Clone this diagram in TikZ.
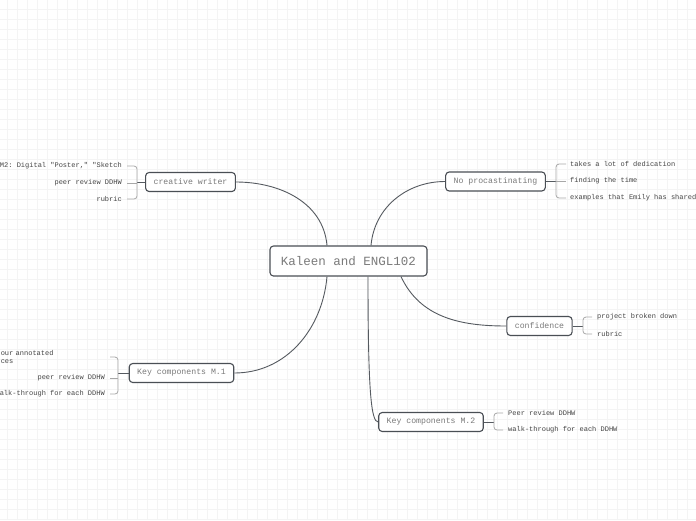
\documentclass[tikz,border=0pt]{standalone}
\usepackage{fontspec}
\setmonofont{Liberation Mono}
\definecolor{boxline}{HTML}{4A4F55}
\definecolor{topictext}{HTML}{7A7A7A}
\definecolor{leaftext}{HTML}{444444}
\definecolor{linecol}{HTML}{555A60}
\definecolor{bracecol}{HTML}{A8A8A8}
\definecolor{gridcol}{HTML}{F4F4F4}

\begin{document}
\begin{tikzpicture}[x=1pt,y=-1pt,
    topic/.style={draw=boxline,line width=1.1pt,fill=white,rounded corners=3.5pt,
      text=topictext,inner xsep=8pt,inner ysep=0pt,minimum height=19pt,
      font=\ttfamily\fontsize{8.2}{10}\selectfont},
    root/.style={topic,inner xsep=11pt,minimum height=30pt,
      font=\ttfamily\fontsize{12.5}{14}\selectfont},
    leafL/.style={anchor=east,inner sep=0pt,text=leaftext,
      font=\ttfamily\fontsize{7}{8}\selectfont},
    leafR/.style={leafL,anchor=west},
    branch/.style={draw=linecol,line width=0.9pt},
    brace/.style={draw=bracecol,line width=0.8pt,rounded corners=3pt},
    gridline/.style={draw=gridcol,line width=0.5pt}]
  \useasboundingbox (0,0) rectangle (696,520);
  \clip (0,0) rectangle (696,520);
  \fill[white] (0,0) rectangle (696,520);
  \foreach \x in {7,17,...,697} \draw[gridline] (\x,0) -- (\x,520);
  \foreach \y in {9,19,...,519} \draw[gridline] (0,\y) -- (696,\y);

  % main topics
  \node[root] (kaleen) at (348.5,261) {Kaleen and ENGL102};
  \node[topic] (creative) at (190.5,182) {creative writer};
  \node[topic] (noproc) at (495.5,181.5) {No procastinating};
  \node[topic] (confid) at (539.5,326) {confidence};
  \node[topic] (keyone) at (181.5,373) {Key components M.1};
  \node[topic] (keytwo) at (431,422) {Key components M.2};

  \draw[branch] ([xshift=-21.5pt]kaleen.north) to[out=95,in=0] (creative.east);
  \draw[branch] ([xshift=22.5pt]kaleen.north) to[out=85,in=180] (noproc.west);
  \draw[branch] ([xshift=52.5pt]kaleen.south) to[out=-65,in=180] (confid.west);
  \draw[branch] ([xshift=-21.5pt]kaleen.south) to[out=-95,in=0] (keyone.east);
  \draw[branch] ([xshift=19.5pt]kaleen.south) .. controls +(0,115) and +(-7,0) .. (keytwo.west);

  % creative writer
  \node[leafL] (cwa) at (122,166) {M2: Digital "Poster," "Sketch};
  \node[leafL] (cwb) at (122,183) {peer review DDHW};
  \node[leafL] (cwc) at (122,199) {rubric};
  \coordinate (cwB) at (137,182);
  \draw[branch] (creative.west) -- (cwB);
  \draw[brace] ([xshift=5pt]cwa.east) -| (cwB) |- ([xshift=5pt]cwc.east);
  \draw[brace] ([xshift=5pt]cwb.east) -- (cwb.east -| cwB);

  % no procastinating
  \node[leafR] (npa) at (570,164) {takes a lot of dedication};
  \node[leafR] (npb) at (570,181) {finding the time};
  \node[leafR] (npc) at (570,198) {examples that Emily has shared};
  \coordinate (npB) at (556,181.5);
  \draw[branch] (noproc.east) -- (npB);
  \draw[brace] ([xshift=-4pt]npa.west) -| (npB) |- ([xshift=-4pt]npc.west);
  \draw[brace] ([xshift=-4pt]npb.west) -- (npb.west -| npB);

  % confidence
  \node[leafR] (cfa) at (597,317) {project broken down};
  \node[leafR] (cfb) at (597,334) {rubric};
  \coordinate (cfB) at (583,326);
  \draw[branch] (confid.east) -- (cfB);
  \draw[brace] ([xshift=-5pt]cfa.west) -| (cfB) |- ([xshift=-5pt]cfb.west);

  % key components M.1
  \node[leafL,text width=104pt,align=left] (kaa) at (105,357) {our annotated\\ces};
  \node[leafL] (kab) at (105,378) {peer review DDHW};
  \node[leafL] (kac) at (105,394) {alk-through for each DDHW};
  \coordinate (kaB) at (118,373);
  \draw[branch] (keyone.west) -- (kaB);
  \draw[brace] ([xshift=5pt]kaa.east) -| (kaB) |- ([xshift=5pt]kac.east);
  \draw[brace] ([xshift=5pt]kab.east) -- (kab.east -| kaB);

  % key components M.2
  \node[leafR] (kba) at (508,413) {Peer review DDHW};
  \node[leafR] (kbb) at (508,430) {walk-through for each DDHW};
  \coordinate (kbB) at (494,422);
  \draw[branch] (keytwo.east) -- (kbB);
  \draw[brace] ([xshift=-5pt]kba.west) -| (kbB) |- ([xshift=-5pt]kbb.west);
\end{tikzpicture}
\end{document}
